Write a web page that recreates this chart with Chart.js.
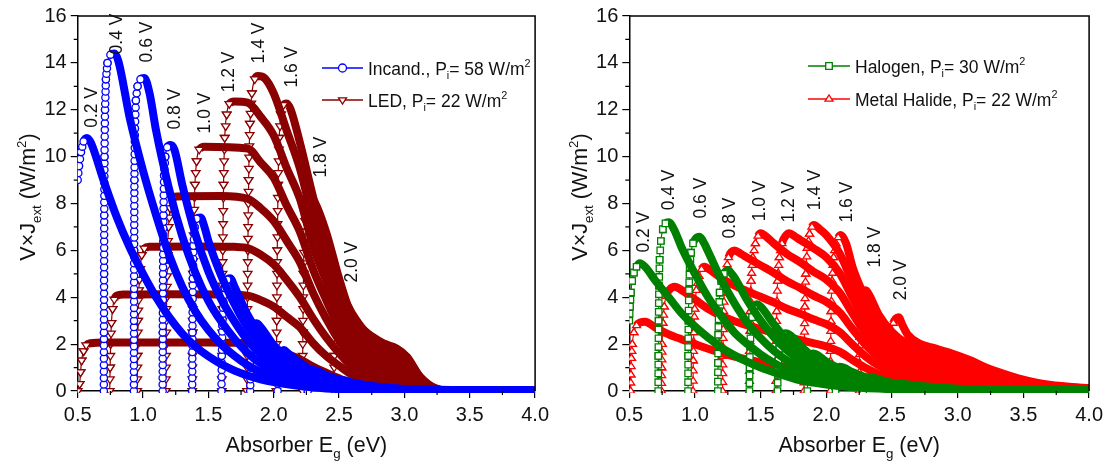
<!DOCTYPE html>
<html><head><meta charset="utf-8">
<script src="https://cdn.jsdelivr.net/npm/chart.js@4.4.1/dist/chart.umd.min.js"></script>
<style>
html,body{margin:0;padding:0;background:#fff;}
#wrap{position:relative;width:1108px;height:464px;overflow:hidden;background:#fff}
#c1{position:absolute;left:0;top:0}
#c2{position:absolute;left:554px;top:0}
</style></head><body>
<div id="wrap"><canvas id="c1" width="554" height="464"></canvas><canvas id="c2" width="554" height="464"></canvas></div>
<script>
const FONT = "'Liberation Sans', Arial, Helvetica, sans-serif";

// ---- axis ticks ----
const xTickValues = [0.5, 1.0, 1.5, 2.0, 2.5, 3.0, 3.5, 4.0];
const xTickLabels = ['0.5', '1.0', '1.5', '2.0', '2.5', '3.0', '3.5', '4.0'];
const yTickValues = [0, 2, 4, 6, 8, 10, 12, 14, 16];
const yTickLabels = ['0', '2', '4', '6', '8', '10', '12', '14', '16'];
const voltageLabels = ['0.2 V', '0.4 V', '0.6 V', '0.8 V', '1.0 V', '1.2 V', '1.4 V', '1.6 V', '1.8 V', '2.0 V'];

// ---- Incandescent (Eg [eV], V x J_ext [W/m2]) ----
const inc02 = [[0.5,9.0],[0.51,9.6],[0.525,10.2],[0.545,10.65],[0.57,10.8],[0.6,10.6],[0.7,8.95],[0.8,7.4],[0.9,6.1],[1.0,5.0],[1.1,4.0],[1.2,3.15],[1.3,2.45],[1.4,1.9],[1.5,1.48],[1.6,1.14],[1.7,0.87],[1.8,0.66],[1.9,0.5],[2.0,0.38],[2.2,0.21],[2.4,0.11],[2.6,0.06],[3.0,0.04],[3.5,0.03],[4.0,0.03]];
const inc04 = [[0.70,0],[0.701,2.5],[0.702,5],[0.703,7.5],[0.705,10],[0.709,12],[0.716,13.3],[0.728,14.0],[0.75,14.35],[0.78,14.4],[0.81,14.1],[0.9,11.6],[1.0,9.4],[1.1,7.5],[1.2,5.8],[1.3,4.45],[1.4,3.4],[1.5,2.6],[1.6,1.98],[1.7,1.5],[1.8,1.1],[1.9,0.8],[2.0,0.58],[2.2,0.31],[2.4,0.16],[2.6,0.08],[2.8,0.05],[3.0,0.04],[3.5,0.03],[4.0,0.03]];
const inc06 = [[0.93,0],[0.931,3],[0.932,6],[0.934,9],[0.938,11.2],[0.945,12.4],[0.958,13.0],[0.98,13.3],[1.01,13.35],[1.05,12.7],[1.1,11.1],[1.2,8.6],[1.3,6.6],[1.4,5.05],[1.5,3.85],[1.6,2.95],[1.7,2.22],[1.8,1.62],[1.9,1.17],[2.0,0.85],[2.2,0.46],[2.4,0.23],[2.6,0.12],[2.8,0.07],[3.0,0.05],[3.5,0.04],[4.0,0.03]];
const inc08 = [[1.15,0],[1.151,2.5],[1.153,5],[1.156,7.5],[1.161,9.2],[1.17,10.0],[1.185,10.4],[1.21,10.5],[1.24,10.3],[1.3,8.8],[1.4,6.7],[1.5,5.1],[1.6,3.9],[1.7,2.96],[1.8,2.16],[1.9,1.56],[2.0,1.12],[2.2,0.6],[2.4,0.3],[2.6,0.15],[2.8,0.08],[3.0,0.05],[3.5,0.04],[4.0,0.03]];
const inc10 = [[1.376,0],[1.378,2.5],[1.381,4.8],[1.386,6.2],[1.395,7.0],[1.41,7.35],[1.44,7.4],[1.47,7.0],[1.5,6.4],[1.6,4.9],[1.7,3.7],[1.8,2.7],[1.9,1.95],[2.0,1.4],[2.2,0.75],[2.4,0.38],[2.6,0.19],[2.8,0.1],[3.0,0.06],[3.5,0.04],[4.0,0.03]];
const inc12 = [[1.60,0],[1.603,1.5],[1.607,2.8],[1.614,3.8],[1.625,4.4],[1.645,4.75],[1.667,4.81],[1.7,4.45],[1.8,3.25],[1.9,2.35],[2.0,1.68],[2.1,1.24],[2.2,0.9],[2.4,0.45],[2.6,0.22],[2.8,0.11],[3.0,0.06],[3.5,0.04],[4.0,0.03]];
const inc14 = [[1.82,0],[1.823,1.0],[1.828,1.8],[1.836,2.4],[1.85,2.78],[1.868,2.89],[1.9,2.73],[2.0,1.96],[2.1,1.44],[2.2,1.05],[2.3,0.74],[2.4,0.52],[2.6,0.26],[2.8,0.13],[3.0,0.07],[3.5,0.04],[4.0,0.03]];
const inc16 = [[2.03,0],[2.034,0.6],[2.04,1.1],[2.05,1.45],[2.063,1.65],[2.08,1.75],[2.1,1.65],[2.2,1.2],[2.3,0.85],[2.4,0.59],[2.5,0.42],[2.6,0.29],[2.8,0.14],[3.0,0.075],[3.5,0.04],[4.0,0.03]];
const inc18 = [[2.26,0],[2.264,0.3],[2.27,0.55],[2.28,0.75],[2.29,0.86],[2.30,0.9],[2.33,0.86],[2.4,0.67],[2.5,0.47],[2.6,0.32],[2.8,0.16],[3.0,0.08],[3.5,0.04],[4.0,0.03]];
const inc20 = [[2.47,0],[2.475,0.15],[2.485,0.3],[2.5,0.4],[2.525,0.47],[2.56,0.43],[2.6,0.36],[2.7,0.26],[2.8,0.18],[3.0,0.09],[3.2,0.055],[3.5,0.04],[4.0,0.03]];

// ---- LED ----
const led02 = [[0.50,0],[0.515,0.3],[0.522,0.8],[0.53,1.3],[0.545,1.7],[0.565,1.95],[0.6,2.04],[0.7,2.07],[0.9,2.07],[1.2,2.07],[1.5,2.07],[1.7,2.06],[1.8,2.03],[1.9,1.94],[2.0,1.8],[2.1,1.58],[2.2,1.36],[2.3,1.04],[2.4,0.78],[2.5,0.54],[2.6,0.35],[2.7,0.27],[2.8,0.22],[2.9,0.19],[3.0,0.16],[3.1,0.08],[3.2,0.02],[3.3,0]];
const led04 = [[0.745,0],[0.748,1.0],[0.752,2.0],[0.758,2.9],[0.767,3.5],[0.78,3.9],[0.8,4.07],[0.85,4.12],[1.2,4.13],[1.6,4.12],[1.8,4.07],[1.9,3.88],[2.0,3.6],[2.1,3.16],[2.2,2.72],[2.3,2.05],[2.4,1.5],[2.5,1.08],[2.6,0.7],[2.7,0.54],[2.8,0.44],[2.9,0.39],[3.0,0.32],[3.1,0.16],[3.2,0.05],[3.3,0]];
const led06 = [[0.955,0],[0.958,1.5],[0.962,3.0],[0.968,4.3],[0.977,5.2],[0.99,5.8],[1.01,6.08],[1.05,6.15],[1.4,6.17],[1.7,6.15],[1.8,6.1],[1.9,5.82],[2.0,5.4],[2.1,4.74],[2.2,4.0],[2.3,3.1],[2.4,2.3],[2.5,1.62],[2.6,1.05],[2.7,0.81],[2.8,0.66],[2.9,0.58],[3.0,0.48],[3.1,0.24],[3.2,0.07],[3.3,0]];
const led08 = [[1.174,0],[1.177,2.0],[1.181,4.0],[1.187,5.8],[1.195,7.0],[1.207,7.8],[1.225,8.2],[1.26,8.3],[1.6,8.32],[1.8,8.2],[1.9,7.8],[2.0,7.25],[2.1,6.4],[2.2,5.5],[2.3,4.2],[2.4,3.1],[2.5,2.16],[2.6,1.4],[2.7,1.08],[2.8,0.88],[2.9,0.78],[3.0,0.64],[3.1,0.32],[3.2,0.1],[3.3,0]];
const led10 = [[1.376,0],[1.379,2.5],[1.383,5.0],[1.389,7.2],[1.397,8.8],[1.41,9.8],[1.43,10.3],[1.47,10.42],[1.8,10.35],[1.9,9.75],[2.0,9.1],[2.1,7.9],[2.2,6.8],[2.3,5.2],[2.4,3.9],[2.5,2.7],[2.6,1.75],[2.7,1.35],[2.8,1.1],[2.9,0.97],[3.0,0.8],[3.1,0.4],[3.2,0.12],[3.3,0]];
const led12 = [[1.603,0],[1.606,3],[1.61,6],[1.616,8.8],[1.625,10.8],[1.64,11.8],[1.66,12.25],[1.7,12.35],[1.8,12.3],[1.9,11.7],[2.0,10.9],[2.1,9.5],[2.2,8.2],[2.3,6.2],[2.4,4.7],[2.5,3.2],[2.6,2.1],[2.7,1.62],[2.8,1.32],[2.9,1.16],[3.0,0.96],[3.1,0.48],[3.2,0.14],[3.3,0]];
const led14 = [[1.795,0],[1.798,3],[1.802,6],[1.808,9],[1.818,11.4],[1.833,12.7],[1.855,13.3],[1.88,13.44],[1.93,13.35],[2.0,12.7],[2.1,11.1],[2.2,9.5],[2.3,7.3],[2.4,5.5],[2.5,3.8],[2.6,2.45],[2.7,1.9],[2.8,1.54],[2.9,1.36],[3.0,1.12],[3.1,0.56],[3.2,0.17],[3.3,0]];
const led16 = [[2.02,0],[2.023,3],[2.027,6],[2.033,8.8],[2.042,10.8],[2.055,11.8],[2.075,12.2],[2.1,12.27],[2.13,12.0],[2.2,10.6],[2.3,8.3],[2.4,6.2],[2.5,4.3],[2.6,2.8],[2.7,2.16],[2.8,1.76],[2.9,1.55],[3.0,1.28],[3.1,0.64],[3.2,0.19],[3.3,0]];
const led18 = [[2.22,0],[2.223,2.5],[2.228,5],[2.235,6.8],[2.245,7.7],[2.26,8.15],[2.28,8.29],[2.31,8.1],[2.4,6.8],[2.5,4.8],[2.6,3.15],[2.7,2.43],[2.8,1.98],[2.9,1.75],[3.0,1.44],[3.1,0.72],[3.2,0.22],[3.3,0]];
const led20 = [[2.46,0],[2.464,1.5],[2.47,2.8],[2.478,3.5],[2.49,3.9],[2.51,4.05],[2.54,3.9],[2.6,3.3],[2.69,2.6],[2.76,2.3],[2.84,2.03],[2.94,1.82],[3.02,1.46],[3.12,0.61],[3.19,0.26],[3.25,0.05],[3.3,0]];

// ---- Halogen ----
const hal02 = [[0.5,3.0],[0.505,3.6],[0.512,4.2],[0.522,4.7],[0.535,5.05],[0.555,5.3],[0.58,5.45],[0.62,5.3],[0.7,4.7],[0.8,4.0],[0.9,3.3],[1.0,2.75],[1.1,2.28],[1.2,1.85],[1.3,1.52],[1.4,1.24],[1.5,1.0],[1.6,0.8],[1.7,0.62],[1.8,0.46],[1.9,0.36],[2.0,0.28],[2.2,0.16],[2.5,0.08],[3.0,0.04],[3.5,0.03],[4.0,0.03]];
const hal04 = [[0.72,0],[0.721,1.5],[0.723,3],[0.726,4.5],[0.731,5.6],[0.74,6.4],[0.755,6.9],[0.775,7.15],[0.80,7.2],[0.84,6.9],[0.9,6.1],[1.0,5.0],[1.1,4.0],[1.2,3.2],[1.3,2.5],[1.4,2.0],[1.5,1.56],[1.6,1.2],[1.7,0.9],[1.8,0.68],[1.9,0.5],[2.0,0.38],[2.2,0.22],[2.5,0.1],[3.0,0.04],[3.5,0.03],[4.0,0.03]];
const hal06 = [[0.947,0],[0.948,1.5],[0.95,3],[0.954,4.3],[0.96,5.3],[0.97,5.9],[0.985,6.3],[1.005,6.5],[1.035,6.58],[1.07,6.3],[1.1,5.95],[1.2,4.75],[1.3,3.75],[1.4,2.9],[1.5,2.25],[1.6,1.72],[1.7,1.3],[1.8,0.98],[1.9,0.73],[2.0,0.55],[2.2,0.31],[2.5,0.13],[3.0,0.05],[3.5,0.03],[4.0,0.03]];
const hal08 = [[1.174,0],[1.175,1.2],[1.177,2.4],[1.181,3.4],[1.188,4.2],[1.2,4.7],[1.22,5.0],[1.25,5.16],[1.28,5.0],[1.3,4.85],[1.4,3.85],[1.5,3.0],[1.6,2.3],[1.7,1.74],[1.8,1.3],[1.9,0.97],[2.0,0.72],[2.2,0.4],[2.5,0.17],[3.0,0.05],[3.5,0.03],[4.0,0.03]];
const hal10 = [[1.414,0],[1.416,1.0],[1.419,1.9],[1.425,2.6],[1.435,3.15],[1.45,3.5],[1.47,3.7],[1.5,3.6],[1.6,2.85],[1.7,2.15],[1.8,1.62],[1.9,1.2],[2.0,0.9],[2.2,0.5],[2.5,0.2],[3.0,0.06],[3.5,0.03],[4.0,0.03]];
const hal12 = [[1.628,0],[1.631,0.7],[1.635,1.3],[1.642,1.8],[1.655,2.2],[1.67,2.4],[1.69,2.46],[1.72,2.4],[1.8,1.95],[1.9,1.45],[2.0,1.07],[2.2,0.6],[2.5,0.24],[3.0,0.07],[3.5,0.03],[4.0,0.03]];
const hal14 = [[1.855,0],[1.858,0.5],[1.863,0.9],[1.87,1.25],[1.882,1.5],[1.9,1.6],[1.93,1.55],[2.0,1.25],[2.1,0.95],[2.2,0.7],[2.5,0.27],[3.0,0.07],[3.5,0.03],[4.0,0.03]];
const hal16 = [[2.07,0],[2.073,0.35],[2.078,0.65],[2.086,0.88],[2.1,1.04],[2.13,1.0],[2.2,0.8],[2.3,0.58],[2.5,0.3],[3.0,0.07],[3.5,0.03],[4.0,0.03]];
const hal18 = [[2.28,0],[2.284,0.25],[2.29,0.42],[2.3,0.55],[2.32,0.6],[2.36,0.57],[2.4,0.5],[2.5,0.35],[2.7,0.18],[3.0,0.08],[3.5,0.04],[4.0,0.03]];
const hal20 = [[2.5,0],[2.505,0.12],[2.515,0.24],[2.528,0.3],[2.54,0.33],[2.58,0.31],[2.7,0.22],[2.9,0.13],[3.2,0.06],[3.5,0.04],[4.0,0.03]];

// ---- Metal Halide ----
const mh02 = [[0.51,0],[0.512,0.7],[0.516,1.4],[0.523,2.0],[0.535,2.5],[0.555,2.8],[0.585,2.93],[0.62,2.96],[0.7,2.7],[0.8,2.42],[0.9,2.2],[1.0,2.0],[1.1,1.8],[1.2,1.62],[1.3,1.47],[1.4,1.34],[1.5,1.22],[1.6,1.1],[1.7,1.02],[1.8,0.96],[1.9,0.9],[2.0,0.85],[2.1,0.78],[2.2,0.64],[2.3,0.49],[2.4,0.36],[2.5,0.28],[2.6,0.23],[2.8,0.19],[3.0,0.15],[3.2,0.1],[3.4,0.065],[3.6,0.04],[3.8,0.025],[4.0,0.015]];
const mh04 = [[0.745,0],[0.747,1.0],[0.75,2.0],[0.756,2.9],[0.766,3.6],[0.78,4.05],[0.81,4.35],[0.846,4.45],[0.9,4.3],[1.0,3.9],[1.1,3.5],[1.2,3.2],[1.3,2.98],[1.4,2.8],[1.5,2.64],[1.6,2.48],[1.7,2.32],[1.8,2.18],[1.9,2.04],[2.0,1.9],[2.1,1.68],[2.2,1.32],[2.3,0.98],[2.4,0.72],[2.5,0.56],[2.6,0.46],[2.8,0.37],[3.0,0.3],[3.2,0.21],[3.4,0.13],[3.6,0.07],[3.8,0.04],[4.0,0.025]];
const mh06 = [[0.985,0],[0.987,1.3],[0.991,2.5],[0.998,3.5],[1.01,4.3],[1.03,4.9],[1.05,5.2],[1.073,5.3],[1.1,5.22],[1.2,4.82],[1.3,4.5],[1.4,4.25],[1.5,4.02],[1.6,3.78],[1.7,3.51],[1.8,3.3],[1.9,3.06],[2.0,2.85],[2.1,2.52],[2.2,1.98],[2.3,1.47],[2.4,1.08],[2.5,0.84],[2.6,0.69],[2.8,0.56],[3.0,0.45],[3.2,0.31],[3.4,0.19],[3.6,0.11],[3.8,0.06],[4.0,0.036]];
const mh08 = [[1.21,0],[1.212,1.5],[1.216,3.0],[1.223,4.2],[1.235,5.1],[1.255,5.7],[1.28,5.95],[1.30,6.0],[1.35,5.85],[1.4,5.68],[1.5,5.36],[1.6,5.04],[1.7,4.68],[1.8,4.4],[1.9,4.08],[2.0,3.8],[2.1,3.36],[2.2,2.64],[2.3,1.96],[2.4,1.44],[2.5,1.12],[2.6,0.92],[2.8,0.74],[3.0,0.6],[3.2,0.42],[3.4,0.26],[3.6,0.14],[3.8,0.08],[4.0,0.048]];
const mh10 = [[1.414,0],[1.416,1.7],[1.42,3.4],[1.427,4.7],[1.44,5.7],[1.46,6.3],[1.48,6.62],[1.50,6.73],[1.55,6.55],[1.6,6.3],[1.7,5.85],[1.8,5.5],[1.9,5.1],[2.0,4.75],[2.1,4.2],[2.2,3.3],[2.3,2.45],[2.4,1.8],[2.5,1.4],[2.6,1.15],[2.8,0.93],[3.0,0.75],[3.2,0.52],[3.4,0.32],[3.6,0.18],[3.8,0.1],[4.0,0.06]];
const mh12 = [[1.616,0],[1.618,1.7],[1.622,3.4],[1.629,4.7],[1.642,5.7],[1.662,6.3],[1.69,6.62],[1.717,6.73],[1.76,6.6],[1.8,6.45],[1.9,6.1],[2.0,5.7],[2.1,5.04],[2.2,3.96],[2.3,2.94],[2.4,2.16],[2.5,1.68],[2.6,1.38],[2.8,1.12],[3.0,0.9],[3.2,0.62],[3.4,0.38],[3.6,0.22],[3.8,0.12],[4.0,0.072]];
const mh14 = [[1.83,0],[1.832,1.8],[1.836,3.6],[1.843,5.0],[1.855,6.1],[1.872,6.7],[1.89,7.0],[1.906,7.08],[1.95,6.9],[2.0,6.65],[2.1,5.88],[2.2,4.62],[2.3,3.43],[2.4,2.52],[2.5,1.96],[2.6,1.61],[2.8,1.3],[3.0,1.05],[3.2,0.73],[3.4,0.45],[3.6,0.25],[3.8,0.14],[4.0,0.084]];
const mh16 = [[2.03,0],[2.032,1.7],[2.036,3.4],[2.043,4.7],[2.055,5.7],[2.072,6.3],[2.09,6.55],[2.11,6.66],[2.15,6.3],[2.2,5.28],[2.3,3.92],[2.4,2.88],[2.5,2.24],[2.6,1.84],[2.8,1.49],[3.0,1.2],[3.2,0.83],[3.4,0.51],[3.6,0.29],[3.8,0.16],[4.0,0.096]];
const mh18 = [[2.25,0],[2.252,1.2],[2.256,2.3],[2.263,3.2],[2.275,3.8],[2.29,4.2],[2.30,4.3],[2.33,4.05],[2.4,3.24],[2.5,2.52],[2.6,2.07],[2.8,1.67],[3.0,1.35],[3.2,0.94],[3.4,0.58],[3.6,0.32],[3.8,0.18],[4.0,0.11]];
const mh20 = [[2.48,0],[2.483,0.9],[2.488,1.8],[2.496,2.5],[2.51,2.9],[2.53,3.1],[2.55,3.15],[2.58,2.8],[2.62,2.4],[2.7,2.05],[2.8,1.86],[2.95,1.61],[3.1,1.3],[3.2,1.04],[3.3,0.83],[3.46,0.54],[3.6,0.36],[3.71,0.26],[3.85,0.18],[4.0,0.12]];

const incandCurves = [inc02, inc04, inc06, inc08, inc10, inc12, inc14, inc16, inc18, inc20];
const ledCurves = [led02, led04, led06, led08, led10, led12, led14, led16, led18, led20];
const halogenCurves = [hal02, hal04, hal06, hal08, hal10, hal12, hal14, hal16, hal18, hal20];
const mhCurves = [mh02, mh04, mh06, mh08, mh10, mh12, mh14, mh16, mh18, mh20];

// voltage label anchors (data coordinates)
const leftLabelEg = [0.612, 0.802, 1.029, 1.245, 1.472, 1.661, 1.889, 2.139, 2.366, 2.601];
const leftLabelVJ = [12.1, 15.23, 14.89, 12.03, 11.86, 13.61, 14.85, 13.82, 9.98, 5.5];
const rightLabelEg = [0.611, 0.800, 1.050, 1.270, 1.497, 1.717, 1.918, 2.155, 2.375, 2.572];
const rightLabelVJ = [6.78, 8.58, 8.23, 7.38, 8.11, 8.06, 8.58, 8.06, 6.14, 4.74];

const COLORS = { incand: '#0000ff', led: '#8b0000', halogen: '#008000', mh: '#ff0000' };

function isSteepPx(a, b) {
  if (!a || !b) return false;
  return (a.y - b.y) > 2.2 * (b.x - a.x);
}

function drawMarker(ctx, style, x, y, color, size) {
  const r = size;
  ctx.beginPath();
  if (style === 'circle') {
    ctx.arc(x, y, r, 0, Math.PI * 2);
  } else if (style === 'rect') {
    ctx.rect(x - r, y - r, 2 * r, 2 * r);
  } else if (style === 'down') {
    ctx.moveTo(x - r, y - r * 0.55); ctx.lineTo(x + r, y - r * 0.55); ctx.lineTo(x, y + r * 1.0); ctx.closePath();
  } else {
    ctx.moveTo(x - r, y + r * 0.55); ctx.lineTo(x + r, y + r * 0.55); ctx.lineTo(x, y - r * 1.0); ctx.closePath();
  }
  ctx.fillStyle = '#fff';
  ctx.strokeStyle = color;
  ctx.lineWidth = 1.3;
  ctx.fill(); ctx.stroke();
}

function makeDatasets(curves, color, edgeStyle, edgeSize, edgeGap) {
  return curves.map(arr => ({
    data: arr.map(p => ({ x: p[0], y: p[1] })),
    showLine: true,
    borderColor: color,
    backgroundColor: '#ffffff',
    borderWidth: 8,
    cubicInterpolationMode: 'monotone',
    segment: {
      borderWidth: ctx => isSteepPx(ctx.p0, ctx.p1) ? 1.2 : 8
    },
    pointRadius: 0,
    edgeStyle: edgeStyle, edgeSize: edgeSize, edgeGap: edgeGap,
    clip: { left: 0, right: 0, bottom: 2, top: 12 }
  }));
}

// open markers along the steep (rising) parts of each curve
const edgeMarkerPlugin = {
  id: 'edgeMarkers',
  afterDatasetDraw(chart, args) {
    const ds = chart.data.datasets[args.index];
    const pts = args.meta.data;
    const ctx = chart.ctx;
    const a = chart.chartArea;
    ctx.save();
    ctx.beginPath();
    ctx.rect(a.left, a.top - 12, a.right - a.left, a.bottom - a.top + 14);
    ctx.clip();
    for (let i = 0; i < pts.length - 1; i++) {
      const p = pts[i], q = pts[i + 1];
      if (!isSteepPx(p, q)) continue;
      const dx = q.x - p.x, dy = q.y - p.y;
      const L = Math.hypot(dx, dy);
      const n = Math.max(1, Math.round(L / ds.edgeGap));
      for (let k = 0; k <= n; k++) {
        drawMarker(ctx, ds.edgeStyle, p.x + dx * k / n, p.y + dy * k / n, ds.borderColor, ds.edgeSize);
      }
    }
    ctx.restore();
  }
};

function richMeasure(ctx, parts, size) {
  let w = 0;
  for (const p of parts) {
    const s = p[1] ? size * 0.62 : size;
    ctx.font = s + 'px ' + FONT;
    w += ctx.measureText(p[0]).width;
  }
  return w;
}
function drawRich(ctx, parts, x, y, size) {
  ctx.textAlign = 'left';
  ctx.textBaseline = 'alphabetic';
  for (const p of parts) {
    const s = p[1] ? size * 0.62 : size;
    ctx.font = s + 'px ' + FONT;
    let dy = 0;
    if (p[1] === 'sub') dy = size * 0.28;
    if (p[1] === 'sup') dy = -size * 0.42;
    ctx.fillText(p[0], x, y + dy);
    x += ctx.measureText(p[0]).width;
  }
}

function panelPlugin(cfg) {
  return {
    id: 'panel',
    afterDraw(chart) {
      const ctx = chart.ctx;
      const a = chart.chartArea;
      const sx = chart.scales.x, sy = chart.scales.y;
      ctx.save();
      // frame (top & right)
      ctx.strokeStyle = '#000';
      ctx.lineWidth = 1.5;
      ctx.beginPath();
      ctx.moveTo(a.left, a.top); ctx.lineTo(a.right, a.top); ctx.lineTo(a.right, a.bottom);
      ctx.stroke();
      // minor ticks
      ctx.lineWidth = 1.2;
      ctx.beginPath();
      for (let v = 0.75; v < 4.0; v += 0.5) {
        const x = sx.getPixelForValue(v);
        ctx.moveTo(x, a.bottom); ctx.lineTo(x, a.bottom + 4);
      }
      for (let v = 1; v < 16; v += 2) {
        const y = sy.getPixelForValue(v);
        ctx.moveTo(a.left, y); ctx.lineTo(a.left - 4, y);
      }
      ctx.stroke();
      ctx.fillStyle = '#111';
      // x title
      const xt = [['Absorber E'], ['g', 'sub'], [' (eV)']];
      const xw = richMeasure(ctx, xt, 21.5);
      drawRich(ctx, xt, (a.left + a.right) / 2 - xw / 2, 452, 21.5);
      // y title
      const yt = [['V\u00d7J'], ['ext', 'sub'], [' (W/m'], ['2', 'sup'], [')']];
      const yw = richMeasure(ctx, yt, 21.5);
      ctx.save();
      ctx.translate(cfg.yTitleX, 197);
      ctx.rotate(-Math.PI / 2);
      drawRich(ctx, yt, -yw / 2, 0, 21.5);
      ctx.restore();
      // voltage labels
      ctx.font = '17.5px ' + FONT;
      ctx.textAlign = 'center';
      ctx.textBaseline = 'middle';
      for (let i = 0; i < voltageLabels.length; i++) {
        const x = sx.getPixelForValue(cfg.labelEg[i]);
        const y = sy.getPixelForValue(cfg.labelVJ[i]);
        ctx.save();
        ctx.translate(x, y);
        ctx.rotate(-Math.PI / 2);
        ctx.fillText(voltageLabels[i], 0, 0);
        ctx.restore();
      }
      // legend
      for (const row of cfg.legend) {
        ctx.strokeStyle = row.color;
        ctx.lineWidth = 1.5;
        ctx.beginPath();
        ctx.moveTo(row.x0, row.y); ctx.lineTo(row.x1, row.y);
        ctx.stroke();
        drawMarker(ctx, row.marker, (row.x0 + row.x1) / 2, row.y, row.color, row.marker === 'rect' ? 3.3 : 4);
        ctx.fillStyle = '#111';
        drawRich(ctx, row.parts, row.x1 + 5, row.y + 6.5, 17.5);
      }
      ctx.restore();
    }
  };
}

function scaleOptions() {
  return {
    x: {
      type: 'linear', min: 0.5, max: 4.0,
      afterBuildTicks: s => { s.ticks = xTickValues.map(v => ({ value: v })); },
      afterFit: s => { s.height = 40; },
      ticks: {
        callback: (v) => { const i = xTickValues.findIndex(t => Math.abs(t - v) < 1e-9); return i >= 0 ? xTickLabels[i] : ''; },
        font: { family: FONT, size: 20 }, color: '#111', padding: 5, maxRotation: 0, autoSkip: false
      },
      grid: { drawOnChartArea: false, drawTicks: true, tickLength: 7, color: '#000', lineWidth: 1.2 },
      border: { display: true, color: '#000', width: 1.5 }
    },
    y: {
      type: 'linear', min: 0, max: 16,
      afterBuildTicks: s => { s.ticks = yTickValues.map(v => ({ value: v })); },
      afterFit: s => { s.width = 60; },
      ticks: {
        callback: (v) => { const i = yTickValues.findIndex(t => Math.abs(t - v) < 1e-9); return i >= 0 ? yTickLabels[i] : ''; },
        font: { family: FONT, size: 20 }, color: '#111', padding: 4, autoSkip: false
      },
      grid: { drawOnChartArea: false, drawTicks: true, tickLength: 7, color: '#000', lineWidth: 1.2 },
      border: { display: true, color: '#000', width: 1.5 }
    }
  };
}

function buildChart(id, datasets, padLeft, padRight, cfg) {
  return new Chart(document.getElementById(id), {
    type: 'scatter',
    data: { datasets },
    options: {
      responsive: false, animation: false, events: [],
      layout: { padding: { left: padLeft, right: padRight, top: 16, bottom: 33 } },
      plugins: { legend: { display: false }, tooltip: { enabled: false } },
      scales: scaleOptions()
    },
    plugins: [edgeMarkerPlugin, panelPlugin(cfg)]
  });
}

const leftDatasets = [
  ...makeDatasets(incandCurves, COLORS.incand, 'circle', 3.6, 6.5),
  ...makeDatasets(ledCurves, COLORS.led, 'down', 4.3, 12)
];
const rightDatasets = [
  ...makeDatasets(halogenCurves, COLORS.halogen, 'rect', 3.2, 9),
  ...makeDatasets(mhCurves, COLORS.mh, 'up', 4.0, 9)
];

buildChart('c1', leftDatasets, 17.7, 15, {
  yTitleX: 35,
  labelEg: leftLabelEg, labelVJ: leftLabelVJ,
  legend: [
    { x0: 322, x1: 363, y: 68, color: COLORS.incand, marker: 'circle', parts: [['Incand., P'], ['i', 'sub'], ['= 58 W/m'], ['2', 'sup']] },
    { x0: 322, x1: 363, y: 100, color: COLORS.led, marker: 'down', parts: [['LED, P'], ['i', 'sub'], ['= 22 W/m'], ['2', 'sup']] }
  ]
});
buildChart('c2', rightDatasets, 15.3, 16.3, {
  yTitleX: 32.6,
  labelEg: rightLabelEg, labelVJ: rightLabelVJ,
  legend: [
    { x0: 254, x1: 296, y: 66, color: COLORS.halogen, marker: 'rect', parts: [['Halogen, P'], ['i', 'sub'], ['= 30 W/m'], ['2', 'sup']] },
    { x0: 254, x1: 296, y: 99, color: COLORS.mh, marker: 'up', parts: [['Metal Halide, P'], ['i', 'sub'], ['= 22 W/m'], ['2', 'sup']] }
  ]
});
</script></body></html>
